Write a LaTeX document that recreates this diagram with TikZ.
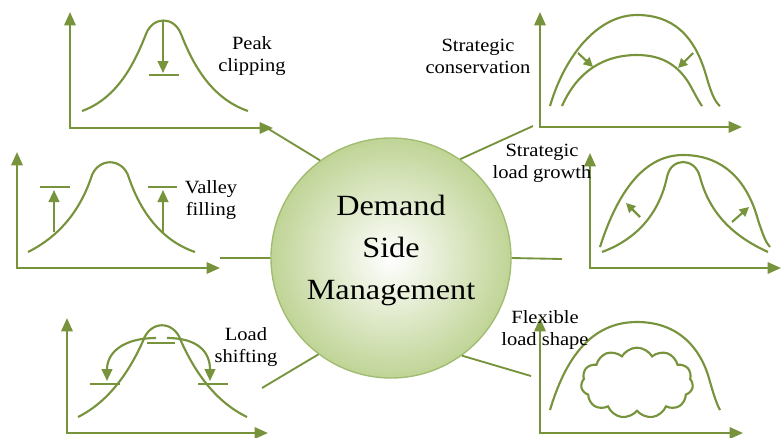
\documentclass[tikz,border=0pt]{standalone}
\usepackage{fontspec}
\setmainfont{Liberation Serif}[FakeStretch=1.1]
\usetikzlibrary{arrows.meta, shapes.symbols}
\definecolor{dsmgreen}{RGB}{119,147,60}
\definecolor{dsmfill}{RGB}{192,212,150}
\definecolor{dsmedge}{RGB}{160,188,112}
\newcommand\loadaxes[4]{% origin x, origin y, end of x axis, top of y axis
  \draw[axisline] (#1,#4) -- (#1,#2) -- (#3,#2);
}

\begin{document}
\begin{tikzpicture}[x=0.75pt,y=-0.75pt,
    loadcurve/.style={dsmgreen, line width=1.6pt},
    axisline/.style={loadcurve, {Triangle[length=10pt,width=8.5pt]}-{Triangle[length=10pt,width=8.5pt]}},
    movearrow/.style={loadcurve, -{Triangle[length=9pt,width=8pt]}},
    smallarrow/.style={loadcurve, -{Triangle[length=7pt,width=7pt]}},
    dsmlabel/.style={align=center, inner sep=0pt, font=\fontsize{14}{16.5}\selectfont}]
  \useasboundingbox (0,0) rectangle (782,437);

  % centre
  \node[circle, minimum size=180pt, draw=dsmedge, line width=1pt, shade, shading=radial,
        inner color=white, outer color=dsmfill] (dsm) at (391,258) {};
  \node[align=center, font=\fontsize{22}{31.5}\selectfont] (dsmname) at (391,250) {Demand\\Side\\Management};

  % connectors
  \coordinate (pcend) at (262,125);
  \coordinate (scend) at (533,126);
  \coordinate (vfend) at (220,258);
  \coordinate (lgend) at (562,259);
  \coordinate (lsend) at (262,388);
  \coordinate (flend) at (531,376);
  \draw[dsmgreen, line width=1.4pt] (dsm.126) -- (pcend) (dsm.55) -- (scend)
    (dsm.180) -- (vfend) (dsm.0) -- (lgend) (dsm.233) -- (lsend) (dsm.306) -- (flend);

  % peak clipping
  \loadaxes{70}{128}{273}{12}
  \draw[loadcurve] (82,111) .. controls (118,98) and (135,62) .. (146,34)
    .. controls (153,16) and (174,16) .. (181,34) .. controls (192,62) and (210,98) .. (248,111);
  \draw[movearrow] (163,21) -- (163,73);
  \draw[loadcurve] (149,75) -- (179,75);
  \node[dsmlabel] (pclabel) at (252,56) {Peak\\clipping};

  % strategic conservation
  \loadaxes{540}{127}{742}{12}
  \draw[loadcurve] (550,106) .. controls (565,55) and (598,15) .. (637,15)
    .. controls (682,15) and (698,48) .. (706,75) .. controls (711,93) and (715,102) .. (720,106);
  \draw[loadcurve] (562,106) .. controls (578,70) and (605,55) .. (637,55)
    .. controls (665,55) and (680,68) .. (690,85) .. controls (696,96) and (699,102) .. (702,106);
  \draw[smallarrow] (578,53) -- (593,67);
  \draw[smallarrow] (693,53) -- (678,68);
  \node[dsmlabel] (sclabel) at (478,56) {Strategic\\conservation};

  % valley filling
  \loadaxes{17}{268}{220}{152}
  \draw[loadcurve] (28,252) .. controls (60,236) and (80,210) .. (91,178)
    .. controls (97,157) and (123,157) .. (129,178) .. controls (140,210) and (160,240) .. (195,252);
  \draw[loadcurve] (40,187) -- (70,187) (148,187) -- (177,187);
  \draw[movearrow] (54,232) -- (54,190);
  \draw[movearrow] (163,232) -- (163,190);
  \node[dsmlabel] (vflabel) at (211,200) {Valley\\filling};

  % strategic load growth
  \loadaxes{590}{268}{781}{153}
  \draw[loadcurve] (600,247) .. controls (615,200) and (640,155) .. (683,155)
    .. controls (730,155) and (750,190) .. (758,220) .. controls (763,235) and (766,243) .. (770,247);
  \draw[loadcurve] (602,252) .. controls (640,238) and (660,210) .. (667,177)
    .. controls (671,157) and (695,157) .. (700,177) .. controls (710,215) and (735,237) .. (768,252);
  \draw[smallarrow] (640,217) -- (626,203);
  \draw[smallarrow] (732,222) -- (749,207);
  \node[dsmlabel] (lglabel) at (542,163) {Strategic\\load growth};

  % load shifting
  \loadaxes{67}{433}{268}{318}
  \draw[loadcurve] (78,417) .. controls (110,401) and (130,370) .. (143,341)
    .. controls (150,320) and (174,320) .. (181,341) .. controls (194,370) and (214,401) .. (247,417);
  \draw[loadcurve] (147,343) -- (175,343) (90,384) -- (120,384) (198,384) -- (228,384);
  \draw[movearrow] (156,338) .. controls (124,338) and (107,352) .. (107,381);
  \draw[movearrow] (167,338) .. controls (198,338) and (210,352) .. (210,381);
  \node[dsmlabel] (lslabel) at (246,347) {Load\\shifting};

  % flexible load shape
  \loadaxes{540}{433}{743}{318}
  \draw[loadcurve] (550,410) .. controls (565,360) and (590,322) .. (637,322)
    .. controls (680,322) and (700,350) .. (708,375) .. controls (713,392) and (716,403) .. (720,410);
  \node[cloud, draw=dsmgreen, line width=1.6pt, cloud puffs=11, cloud puff arc=120, aspect=1.6,
        minimum width=84pt, minimum height=53pt, inner sep=0pt] (flcloud) at (637,383) {};
  \node[dsmlabel] (fllabel) at (545,330) {Flexible\\load shape};
\end{tikzpicture}
\end{document}
